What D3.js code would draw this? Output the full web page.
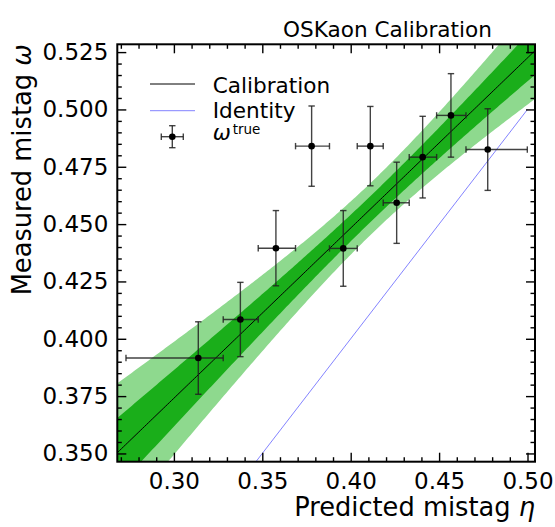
<!DOCTYPE html>
<html>
<head>
<meta charset="utf-8">
<script src="https://cdn.jsdelivr.net/npm/d3@7"></script>
<style>
  body { margin: 0; background: #fff; }
  svg text { font-family: "DejaVu Sans", sans-serif; fill: #000; }
</style>
</head>
<body>
<svg id="chart" width="555" height="527"></svg>
<script>
// Bin edges in predicted mistag (horizontal error bars span each bin)
const binEdges = [0.2729, 0.3279, 0.3477, 0.3688, 0.3880, 0.4037, 0.4184, 0.4331, 0.4486, 0.4652, 0.4999];
// Mean predicted mistag per bin
const etaMean = [0.3138, 0.3376, 0.3577, 0.3779, 0.3958, 0.4111, 0.4260, 0.4407, 0.4567, 0.4775];
// Measured mistag per bin and its uncertainty
const omegaTrue = [0.3916, 0.4084, 0.4395, 0.4840, 0.4394, 0.4840, 0.4593, 0.4792, 0.4974, 0.4825];
const omegaErr = [0.0158, 0.0162, 0.0164, 0.0175, 0.0165, 0.0173, 0.0177, 0.0178, 0.0182, 0.0178];

// Linear calibration: omega = p0 + p1 * (eta - etaAvg)
const calibP0 = 0.4577;
const calibP1 = 0.742;
const calibEtaAvg = 0.4127;
const calibSigmaP0 = 0.00567;
const calibSigmaP1 = 0.0969;

const xTicks = [0.30, 0.35, 0.40, 0.45, 0.50];
const xTickLabels = ["0.30", "0.35", "0.40", "0.45", "0.50"];
const yTicks = [0.350, 0.375, 0.400, 0.425, 0.450, 0.475, 0.500, 0.525];
const yTickLabels = ["0.350", "0.375", "0.400", "0.425", "0.450", "0.475", "0.500", "0.525"];
const xMinorTicks = [0.27, 0.28, 0.29, 0.31, 0.32, 0.33, 0.34, 0.36, 0.37, 0.38, 0.39, 0.41, 0.42, 0.43, 0.44, 0.46, 0.47, 0.48, 0.49];
const yMinorTicks = [0.355, 0.360, 0.365, 0.370, 0.380, 0.385, 0.390, 0.395, 0.405, 0.410, 0.415, 0.420,
                     0.430, 0.435, 0.440, 0.445, 0.455, 0.460, 0.465, 0.470, 0.480, 0.485, 0.490, 0.495,
                     0.505, 0.510, 0.515, 0.520];

const title = "OSKaon Calibration";
const legendLabels = ["Calibration", "Identity"];

const svg = d3.select("#chart");
const L = 117.3, R = 535, T = 44.3, B = 461.7;
const tickFont = 23, labelFont = 25.7, legendFont = 21.6;

const x = d3.scaleLinear().domain([0.26799, 0.50424]).range([L, R]);
const y = d3.scaleLinear().domain([0.3464, 0.5284]).range([B, T]);

svg.append("defs").append("clipPath").attr("id", "plotclip")
  .append("rect").attr("x", L).attr("y", T).attr("width", R - L).attr("height", B - T);

const plot = svg.append("g").attr("clip-path", "url(#plotclip)");

const calib = eta => calibP0 + calibP1 * (eta - calibEtaAvg);
const calibSigma = eta => Math.sqrt(calibSigmaP0 ** 2 + (calibSigmaP1 * (eta - calibEtaAvg)) ** 2);

const etaGrid = d3.range(0, 201).map(i => x.domain()[0] + (x.domain()[1] - x.domain()[0]) * i / 200);

function band(k) {
  return d3.area()
    .x(d => x(d))
    .y0(d => y(calib(d) - k * calibSigma(d)))
    .y1(d => y(calib(d) + k * calibSigma(d)));
}

plot.append("path").datum(etaGrid).attr("d", band(2)).attr("fill", "#8ed98e");
plot.append("path").datum(etaGrid).attr("d", band(1)).attr("fill", "#1aae1a");

// calibration line
plot.append("path").datum(etaGrid)
  .attr("d", d3.line().x(d => x(d)).y(d => y(calib(d))))
  .attr("fill", "none").attr("stroke", "#000").attr("stroke-width", 1);

// identity line
const idRange = [binEdges[0], binEdges[binEdges.length - 1]];
plot.append("path").datum(idRange)
  .attr("d", d3.line().x(d => x(d)).y(d => y(d)))
  .attr("fill", "none").attr("stroke", "#5a5aff").attr("stroke-width", 0.75);

// error bars and points
const ebColor = "#222";
const cap = 3.2;
const eb = svg.append("g").attr("stroke", ebColor).attr("stroke-width", 1.4).attr("stroke-opacity", 0.85);
etaMean.forEach((eta, i) => {
  const cx = x(eta), cy = y(omegaTrue[i]);
  const x0 = x(binEdges[i]), x1 = x(binEdges[i + 1]);
  const y0 = y(omegaTrue[i] - omegaErr[i]), y1 = y(omegaTrue[i] + omegaErr[i]);
  eb.append("line").attr("x1", x0).attr("x2", x1).attr("y1", cy).attr("y2", cy);
  eb.append("line").attr("x1", cx).attr("x2", cx).attr("y1", y0).attr("y2", y1);
  eb.append("line").attr("x1", x0).attr("x2", x0).attr("y1", cy - cap).attr("y2", cy + cap);
  eb.append("line").attr("x1", x1).attr("x2", x1).attr("y1", cy - cap).attr("y2", cy + cap);
  eb.append("line").attr("x1", cx - cap).attr("x2", cx + cap).attr("y1", y0).attr("y2", y0);
  eb.append("line").attr("x1", cx - cap).attr("x2", cx + cap).attr("y1", y1).attr("y2", y1);
});
svg.append("g").selectAll("circle").data(etaMean).join("circle")
  .attr("cx", d => x(d)).attr("cy", (d, i) => y(omegaTrue[i])).attr("r", 3.3).attr("fill", "#000");

// axes with inward ticks on all four sides
function styleAxis(g) {
  g.select(".domain").remove();
  g.selectAll(".tick line").attr("stroke", "#000").attr("stroke-width", 1.4);
  g.selectAll(".tick text").style("font-size", tickFont + "px").style("font-family", "DejaVu Sans");
}
const major = 9, minor = 4.5;

svg.append("g").attr("transform", `translate(0,${B})`)
  .call(d3.axisBottom(x).tickValues(xTicks).tickFormat((d, i) => xTickLabels[i]).tickSize(-major).tickPadding(10.5))
  .call(styleAxis);
svg.append("g").attr("transform", `translate(0,${B})`)
  .call(d3.axisBottom(x).tickValues(xMinorTicks).tickFormat("").tickSize(-minor)).call(styleAxis);
svg.append("g").attr("transform", `translate(0,${T})`)
  .call(d3.axisTop(x).tickValues(xTicks).tickFormat("").tickSize(-major)).call(styleAxis);
svg.append("g").attr("transform", `translate(0,${T})`)
  .call(d3.axisTop(x).tickValues(xMinorTicks).tickFormat("").tickSize(-minor)).call(styleAxis);

svg.append("g").attr("transform", `translate(${L},0)`)
  .call(d3.axisLeft(y).tickValues(yTicks).tickFormat((d, i) => yTickLabels[i]).tickSize(-major).tickPadding(9))
  .call(styleAxis);
svg.append("g").attr("transform", `translate(${L},0)`)
  .call(d3.axisLeft(y).tickValues(yMinorTicks).tickFormat("").tickSize(-minor)).call(styleAxis);
svg.append("g").attr("transform", `translate(${R},0)`)
  .call(d3.axisRight(y).tickValues(yTicks).tickFormat("").tickSize(-major)).call(styleAxis);
svg.append("g").attr("transform", `translate(${R},0)`)
  .call(d3.axisRight(y).tickValues(yMinorTicks).tickFormat("").tickSize(-minor)).call(styleAxis);

// frame
svg.append("rect").attr("x", L).attr("y", T).attr("width", R - L).attr("height", B - T)
  .attr("fill", "none").attr("stroke", "#000").attr("stroke-width", 2);

// axis labels
const xl = svg.append("text").attr("x", R).attr("y", 516).attr("text-anchor", "end")
  .style("font-size", labelFont + "px");
xl.append("tspan").text("Predicted mistag ");
xl.append("tspan").style("font-style", "italic").text("η");

const yl = svg.append("text").attr("transform", `translate(31,${T}) rotate(-90)`).attr("text-anchor", "end")
  .style("font-size", labelFont + "px");
yl.append("tspan").text("Measured mistag ");
yl.append("tspan").style("font-style", "italic").text("ω");

// title
svg.append("text").attr("x", 283).attr("y", 36.7).style("font-size", legendFont + "px").text(title);

// legend
const lg = svg.append("g");
lg.append("line").attr("x1", 150).attr("x2", 195).attr("y1", 84).attr("y2", 84)
  .attr("stroke", "#000").attr("stroke-width", 1);
lg.append("text").attr("x", 212.7).attr("y", 92.7).style("font-size", legendFont + "px").text(legendLabels[0]);
lg.append("line").attr("x1", 150).attr("x2", 195).attr("y1", 110.7).attr("y2", 110.7)
  .attr("stroke", "#5a5aff").attr("stroke-width", 0.75);
lg.append("text").attr("x", 212.7).attr("y", 118.2).style("font-size", legendFont + "px").text(legendLabels[1]);

const lx = 172.3, ly = 136.7, lh = 11;
const leb = lg.append("g").attr("stroke", ebColor).attr("stroke-width", 1.4).attr("stroke-opacity", 0.85);
leb.append("line").attr("x1", lx - lh).attr("x2", lx + lh).attr("y1", ly).attr("y2", ly);
leb.append("line").attr("x1", lx).attr("x2", lx).attr("y1", ly - lh).attr("y2", ly + lh);
leb.append("line").attr("x1", lx - lh).attr("x2", lx - lh).attr("y1", ly - cap).attr("y2", ly + cap);
leb.append("line").attr("x1", lx + lh).attr("x2", lx + lh).attr("y1", ly - cap).attr("y2", ly + cap);
leb.append("line").attr("x1", lx - cap).attr("x2", lx + cap).attr("y1", ly - lh).attr("y2", ly - lh);
leb.append("line").attr("x1", lx - cap).attr("x2", lx + cap).attr("y1", ly + lh).attr("y2", ly + lh);
lg.append("circle").attr("cx", lx).attr("cy", ly).attr("r", 3.3).attr("fill", "#000");

const lt = lg.append("text").attr("x", 212.7).attr("y", 140).style("font-size", legendFont + "px");
lt.append("tspan").style("font-style", "italic").text("ω");
lt.append("tspan").attr("x", 232.7).attr("y", 133.5).style("font-size", "13.5px").text("true");
</script>
</body>
</html>
